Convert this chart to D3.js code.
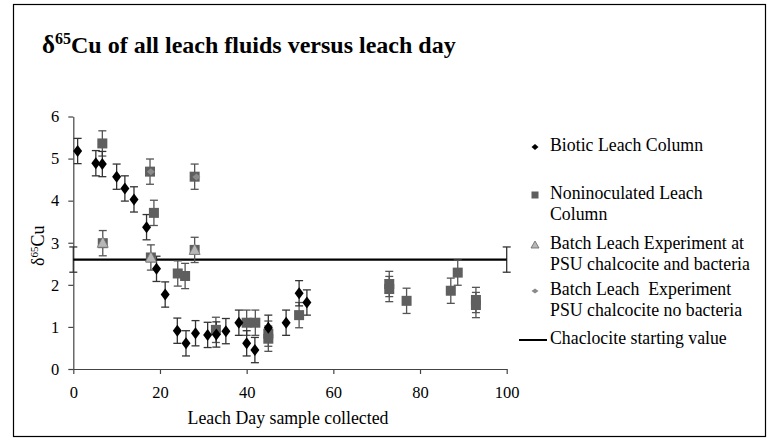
<!DOCTYPE html>
<html><head><meta charset="utf-8">
<script src="https://cdn.jsdelivr.net/npm/d3@7"></script>
<style>
html,body{margin:0;padding:0;background:#fff;}
svg text{font-family:"Liberation Serif","Times New Roman",Tinos,"DejaVu Serif",serif !important;}
</style></head>
<body><svg id="c" width="767" height="438" font-family="Liberation Serif"></svg>
<script>
// ---- data ----
const bioticDays   = [1, 5.2, 6.7, 10, 11.9, 14, 16.9, 19.2, 21.2, 24, 26, 28.2, 31, 33, 35.2, 38.2, 40, 41.9, 45, 49.1, 52.1, 53.9];
const bioticValues = [5.18, 4.89, 4.87, 4.57, 4.29, 4.03, 3.37, 2.38, 1.77, 0.91, 0.61, 0.85, 0.81, 0.82, 0.90, 1.10, 0.61, 0.45, 0.98, 1.10, 1.80, 1.58];
const bioticErr    = 0.3;

const nonDays   = [6.7, 6.8, 17.7, 17.9, 18.6, 24.1, 25.8, 28, 28, 32.9, 40, 42, 45, 45, 52.1, 72.9, 72.9, 76.9, 87.1, 88.7, 92.9, 92.9];
const nonValues = [5.36, 2.99, 4.69, 2.65, 3.71, 2.27, 2.21, 4.57, 2.83, 0.93, 1.10, 1.10, 0.84, 0.72, 1.28, 2.02, 1.90, 1.62, 1.86, 2.29, 1.64, 1.52];
const nonErr    = 0.3;

const batchBactDays   = [6.8, 17.9, 28];
const batchBactValues = [3.0, 2.65, 2.83];

const batchNoBactDays   = [17.9, 28.4];
const batchNoBactValues = [4.69, 4.56];

const chalcDays   = [0, 100];
const chalcValues = [2.6, 2.6];
const chalcErr    = 0.3;

const xTicks = [0, 20, 40, 60, 80, 100];
const yTicks = [0, 1, 2, 3, 4, 5, 6];

const legendLabels = [
  ["Biotic Leach Column"],
  ["Noninoculated Leach", "Column"],
  ["Batch Leach Experiment at", "PSU chalcocite and bacteria"],
  ["Batch Leach  Experiment", "PSU chalcocite no bacteria"],
  ["Chaclocite starting value"]
];

// ---- drawing ----
const FONT = "Liberation Serif";
const svg = d3.select("#c");
svg.append("rect").attr("x",13.5).attr("y",4.5).attr("width",752).attr("height",432)
  .attr("fill","#fff").attr("stroke","#000").attr("stroke-width",1.2);

const x = d3.scaleLinear().domain([0,100]).range([73.3,506.7]);
const y = d3.scaleLinear().domain([0,6]).range([369,116.5]);

// title
const t = svg.append("text").attr("x",42).attr("y",53).attr("font-family",FONT).attr("font-weight","bold").attr("font-size",24).attr("fill","#000");
t.append("tspan").attr("font-size",25).text("δ");
t.append("tspan").attr("font-size",16).attr("dy",-9).text("65");
t.append("tspan").attr("dy",9).text("Cu of all leach fluids versus leach day");

// axes
const ax = svg.append("g").attr("transform",`translate(0,${y(0)})`)
  .call(d3.axisBottom(x).tickValues(xTicks).tickFormat(d3.format("d")).tickSize(5).tickSizeOuter(0).tickPadding(12));
const ay = svg.append("g").attr("transform",`translate(${x(0)},0)`)
  .call(d3.axisLeft(y).tickValues(yTicks).tickFormat(d3.format("d")).tickSize(5).tickSizeOuter(0).tickPadding(9));
[ax,ay].forEach(a=>{
  a.attr("font-family",FONT);
  a.selectAll("path,line").attr("stroke","#444").attr("stroke-width",1.2);
  a.selectAll("text").attr("font-family",FONT).attr("font-size",16.5).attr("fill","#000");
});

// axis titles
svg.append("text").attr("x",288).attr("y",424).attr("text-anchor","middle")
  .attr("font-family",FONT).attr("font-size",17.8).text("Leach Day sample collected");
const yt = svg.append("text").attr("transform",`translate(44,${(y(0)+y(6))/2+3}) rotate(-90)`)
  .attr("text-anchor","middle").attr("font-family",FONT).attr("font-size",18);
yt.append("tspan").text("δ");
yt.append("tspan").attr("font-size",11).attr("dy",-6).text("65");
yt.append("tspan").attr("dy",6).text("Cu");

// error bar helper
function errBars(days, vals, err, color){
  const g = svg.append("g").attr("stroke",color).attr("stroke-width",1.3).attr("fill","none");
  days.forEach((d,i)=>{
    const cx = x(d), y1 = y(vals[i]+err), y2 = y(vals[i]-err);
    g.append("line").attr("x1",cx).attr("x2",cx).attr("y1",y1).attr("y2",y2);
    g.append("line").attr("x1",cx-4).attr("x2",cx+4).attr("y1",y1).attr("y2",y1);
    g.append("line").attr("x1",cx-4).attr("x2",cx+4).attr("y1",y2).attr("y2",y2);
  });
}

// chalcocite line
errBars(chalcDays, chalcValues, chalcErr, "#333");
svg.append("path").datum(chalcDays.map((d,i)=>[d,chalcValues[i]]))
  .attr("d", d3.line().x(d=>x(d[0])).y(d=>y(d[1])))
  .attr("stroke","#000").attr("stroke-width",2.2).attr("fill","none");

errBars(nonDays, nonValues, nonErr, "#555");
errBars(bioticDays, bioticValues, bioticErr, "#333");

const diamond = "M0,-6L4.5,0L0,6L-4.5,0Z";
const tri = "M0,-6L5.5,4.5L-5.5,4.5Z";
const smallDia = "M0,-3.5L4,0L0,3.5L-4,0Z";

// squares
svg.append("g").selectAll("rect").data(nonDays.map((d,i)=>[d,nonValues[i]])).join("rect")
  .attr("x",d=>x(d[0])-5).attr("y",d=>y(d[1])-5).attr("width",10).attr("height",10).attr("fill","#5f5f5f");
// triangles
svg.append("g").selectAll("path").data(batchBactDays.map((d,i)=>[d,batchBactValues[i]])).join("path")
  .attr("d",tri).attr("transform",d=>`translate(${x(d[0])},${y(d[1])})`)
  .attr("fill","#b8b8b8").attr("stroke","#777").attr("stroke-width",0.8);
// no bacteria
svg.append("g").selectAll("path").data(batchNoBactDays.map((d,i)=>[d,batchNoBactValues[i]])).join("path")
  .attr("d",smallDia).attr("transform",d=>`translate(${x(d[0])},${y(d[1])})`).attr("fill","#8a8a8a");
// diamonds
svg.append("g").selectAll("path").data(bioticDays.map((d,i)=>[d,bioticValues[i]])).join("path")
  .attr("d",diamond).attr("transform",d=>`translate(${x(d[0])},${y(d[1])})`).attr("fill","#000");

// legend
const lx = 535, tx = 550;
const rows = [145, 193, 243, 289, 338];
const lg = svg.append("g");
lg.append("path").attr("d","M0,-3L3.5,0L0,3L-3.5,0Z").attr("transform",`translate(${lx},${rows[0]+2})`).attr("fill","#000");
lg.append("rect").attr("x",lx-3.5).attr("y",rows[1]-1.5).attr("width",7).attr("height",7).attr("fill","#5f5f5f");
lg.append("path").attr("d","M0,-4L4,3L-4,3Z").attr("transform",`translate(${lx},${rows[2]+2})`).attr("fill","#b8b8b8").attr("stroke","#666").attr("stroke-width",0.8);
lg.append("path").attr("d","M0,-2.5L3.5,0L0,2.5L-3.5,0Z").attr("transform",`translate(${lx},${rows[3]+2})`).attr("fill","#8a8a8a");
lg.append("line").attr("x1",519).attr("x2",547).attr("y1",rows[4]+2).attr("y2",rows[4]+2).attr("stroke","#000").attr("stroke-width",2);
legendLabels.forEach((lines,i)=>{
  const txt = lg.append("text").attr("x",tx).attr("y",rows[i]+6).attr("font-family",FONT).attr("font-size",17.8).style("white-space","pre");
  lines.forEach((l,j)=>txt.append("tspan").attr("x",tx).attr("dy",j===0?0:20.5).text(l));
});
</script></body></html>
